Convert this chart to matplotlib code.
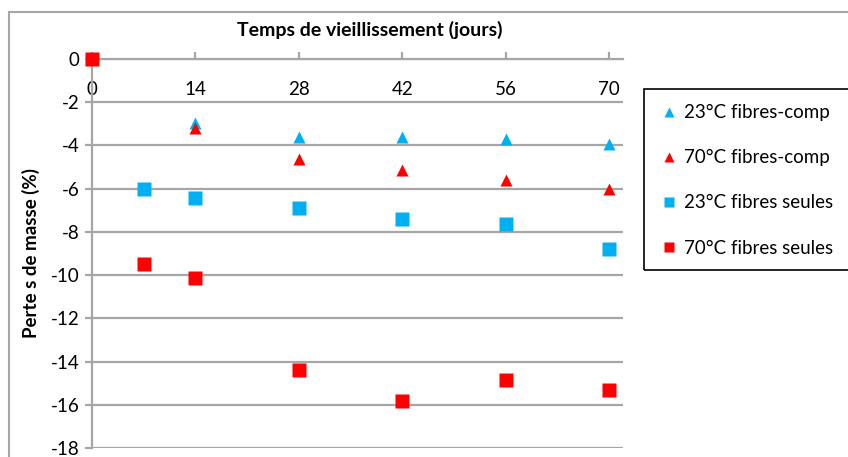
import matplotlib.pyplot as plt
from matplotlib.patches import Rectangle

plt.rcParams['font.family'] = ['Lato', 'DejaVu Sans']
plt.rcParams['axes.unicode_minus'] = False

# Perte de masse (%) en fonction du temps de vieillissement (jours)
jours_comp = [14, 28, 42, 56, 70]
comp_23 = [-2.95, -3.6, -3.63, -3.7, -3.93]
comp_70 = [-3.19, -4.63, -5.14, -5.62, -6.02]

jours_seules_23 = [7, 14, 28, 42, 56, 70]
seules_23 = [-6.0, -6.43, -6.9, -7.4, -7.64, -8.8]

jours_seules_70 = [0, 7, 14, 28, 42, 56, 70]
seules_70 = [0.0, -9.48, -10.12, -14.38, -15.83, -14.86, -15.32]

x_ticks = [0, 14, 28, 42, 56, 70]
y_ticks = list(range(-18, 1, 2))

bleu = '#00B0F0'
rouge = '#FF0000'
gris = '#A6A6A6'


def tracer():
    fig = plt.figure(figsize=(8.48, 4.57), dpi=100)
    ax = fig.add_axes([92 / 848, 1 - 448 / 457, (623 - 92) / 848, (448 - 59) / 457])

    ax.plot(jours_comp, comp_23, '^', color=bleu, ms=9, mec='none', label='23°C fibres-comp', clip_on=False, zorder=3)
    ax.plot(jours_comp, comp_70, '^', color=rouge, ms=9, mec='none', label='70°C fibres-comp', clip_on=False, zorder=3)
    ax.plot(jours_seules_23, seules_23, 's', color=bleu, ms=10, mec='none', label='23°C fibres seules', clip_on=False, zorder=3)
    ax.plot(jours_seules_70, seules_70, 's', color=rouge, ms=10, mec='none', label='70°C fibres seules', clip_on=False, zorder=3)

    ax.set_xlim(0, 71.9)
    ax.set_ylim(-18, 0)
    ax.set_yticks(y_ticks)
    ax.set_xticks(x_ticks)

    ax.yaxis.grid(True, color=gris, lw=1.6)
    ax.set_axisbelow(True)
    for side in ['right', 'bottom']:
        ax.spines[side].set_visible(False)
    for side in ['left', 'top']:
        ax.spines[side].set_color(gris)
        ax.spines[side].set_linewidth(1.6)

    # axe des abscisses en haut, graduations vers le haut, libellés sous la ligne
    ax.xaxis.set_ticks_position('top')
    ax.tick_params(axis='x', direction='out', length=5, width=1.6, color=gris,
                   labelsize=13.5, pad=-33)
    ax.tick_params(axis='y', direction='out', length=5, width=1.6, color=gris,
                   labelsize=13.5, pad=4)

    fig.text(370 / 848, 1 - 30 / 457, 'Temps de vieillissement (jours)', ha='center', va='center',
             fontsize=14, fontweight='bold')
    ax.set_ylabel('Perte s de masse (%)', fontsize=13.5, fontweight='bold', labelpad=8)

    fig.legend(loc='upper left', bbox_to_anchor=(662 / 848, 1 - 104 / 457), frameon=False,
               fontsize=13.5, labelspacing=1.5, handlelength=0.7, handletextpad=0.45,
               markerscale=0.75, borderaxespad=0, borderpad=0)

    # cadres de la légende et de la zone du graphique
    fig.patches.append(Rectangle((644 / 848, 1 - 270 / 457), 0.3, (270 - 89) / 457,
                                 transform=fig.transFigure, fill=False, ec='black', lw=1.2))
    fig.patches.append(Rectangle((9 / 848, -0.1), 1.2, 1.1 - 12 / 457,
                                 transform=fig.transFigure, fill=False, ec=gris, lw=1.5))

    fig.savefig('out.png', dpi=100)


if __name__ == "__main__":
    tracer()
